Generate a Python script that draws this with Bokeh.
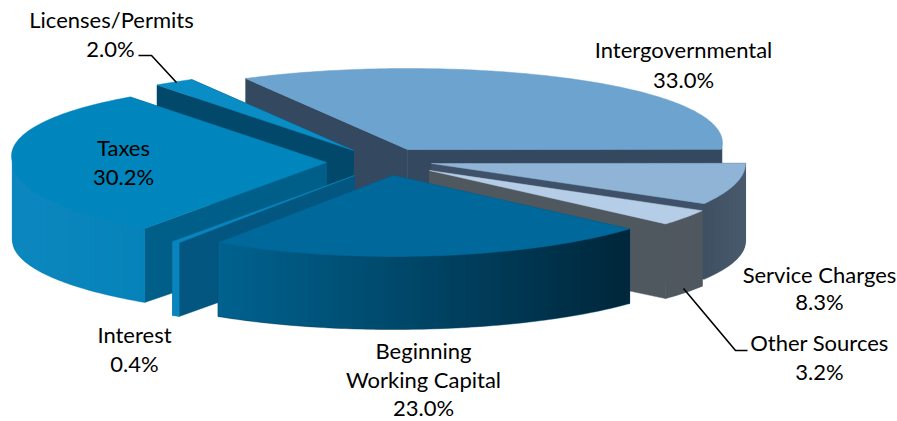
import math
from bokeh.plotting import figure
from bokeh.models import Range1d
from bokeh.core.properties import value
from bokeh.embed import file_html
from bokeh.resources import INLINE

# ---- data (clockwise from the Intergovernmental slice) ----
categories = ["Intergovernmental", "Service Charges", "Other Sources",
              "Beginning Working Capital", "Interest", "Taxes", "Licenses/Permits"]
values = [33.0, 8.3, 3.2, 23.0, 0.4, 30.2, 2.0]
label_lines = [["Intergovernmental"], ["Service Charges"], ["Other Sources"],
               ["Beginning", "Working Capital"], ["Interest"], ["Taxes"], ["Licenses/Permits"]]

# ---- layout ----
W, H = 897, 421
START_DEG = 118.8
RX, RY_TOP, RY_BOT, THICK, BACK_WIDEN = 314, 81, 76, 78, 0.08
apex = [(407, 149), (431, 163), (429, 170), (393, 175), (354, 175), (326, 162), (353, 150)]
draw_order = [0, 6, 5, 1, 2, 4, 3]
top_col = ["#6CA3CF", "#8FB4D6", "#B5CDE6", "#00689A", "#0A84BC", "#0085BD", "#0A8CC5"]
face_col = ["#34495F", "#3E5168", "#50585F", "#00567E", "#03567F", "#005F88", "#02486B"]
wall_l = ["#34495F", "#3F5063", "#50585F", "#00628F", "#0A84BC", "#0D87BF", "#02486B"]
wall_r = ["#2F4A64", "#4A5B6E", "#50585F", "#00263A", "#0A84BC", "#0583B9", "#02486B"]
label_xy = [[(683, 49)], [(819, 274)], [(819, 342)], [(423, 350), (423, 379)],
            [(134, 334)], [(123, 147)], [(111, 19)]]
pct_xy = [(683, 79), (819, 301), (819, 371), (423, 407), (134, 363), (123, 176), (110, 48)]
leaders = [([138, 151, 176], [55, 55, 82]), ([683, 735, 747], [288, 350, 350])]
FONT, FONT_PX = "Lato", "22px"

p = figure(width=W, height=H, x_range=Range1d(0, W), y_range=Range1d(H, 0),
           output_backend="svg", toolbar_location=None, min_border=0)
p.axis.visible = False
p.grid.visible = False
p.outline_line_color = None
p.background_fill_color = "#FFFFFF"


def mix(a, b, t):
    t = min(1, max(0, t))
    ca = [int(a[i:i + 2], 16) for i in (1, 3, 5)]
    cb = [int(b[i:i + 2], 16) for i in (1, 3, 5)]
    return "#%02x%02x%02x" % tuple(round(u + (v - u) * t) for u, v in zip(ca, cb))


def top_pt(i, th):
    s, c = math.sin(th), math.cos(th)
    k = 1 + BACK_WIDEN * max(s, 0)
    return apex[i][0] + RX * c * k, apex[i][1] - RY_TOP * s


def bot_pt(i, th):
    s, c = math.sin(th), math.cos(th)
    k = 1 + BACK_WIDEN * max(s, 0)
    return apex[i][0] + RX * c * k, apex[i][1] + THICK - RY_BOT * s


total = sum(values)
bounds = [math.radians(START_DEG)]
for v in values:
    bounds.append(bounds[-1] - 2 * math.pi * v / total)

for i in draw_order:
    a0, a1 = bounds[i], bounds[i + 1]
    n = max(2, int(abs(a1 - a0) / math.radians(1.0)))
    ths = [a0 + (a1 - a0) * j / n for j in range(n + 1)]
    ax, ay = apex[i]

    # radial cut faces, the one further back first
    faces = sorted([a0, a1], key=lambda t: top_pt(i, t)[1])
    for t in faces:
        x1, y1 = top_pt(i, t)
        x2, y2 = bot_pt(i, t)
        p.patch([ax, x1, x2, ax], [ay, y1, y2, ay + THICK],
                fill_color=face_col[i], line_color=face_col[i], line_width=0.5)

    # outer wall: a solid silhouette, then overlapping shaded strips without outlines
    vis = [t for t in ths if math.sin(t) <= 0.02]
    if len(vis) >= 2:
        tops = [top_pt(i, t) for t in vis]
        bots = [bot_pt(i, t) for t in reversed(vis)]
        lo = min(q[0] for q in tops)
        hi = max(q[0] for q in tops)
        p.patch([q[0] for q in tops + bots], [q[1] for q in tops + bots],
                fill_color=mix(wall_l[i], wall_r[i], 0.5),
                line_color=mix(wall_l[i], wall_r[i], 0.5), line_width=0.5)
        # keep strips just inside the bottom edge so their ends cannot comb it
        order = sorted(vis, key=lambda t: top_pt(i, t)[0])
        xs, ys, cols = [], [], []
        for j in range(len(order) - 1):
            t0 = order[j]
            t1 = order[min(j + 2, len(order) - 1)]
            a, b = top_pt(i, t0), top_pt(i, t1)
            c, d = bot_pt(i, t1), bot_pt(i, t0)
            xs.append([a[0], b[0], c[0], d[0]])
            ys.append([a[1], b[1], c[1] - 0.6, d[1] - 0.6])
            cols.append(mix(wall_l[i], wall_r[i], (a[0] - lo) / max(hi - lo, 1)))
        p.patches(xs, ys, fill_color=cols, line_color=None)

    # top surface
    pts = [top_pt(i, t) for t in ths]
    p.patch([ax] + [q[0] for q in pts], [ay] + [q[1] for q in pts],
            fill_color=top_col[i], line_color=top_col[i], line_width=0.5)

for lx, ly in leaders:
    p.line(lx, ly, line_color="#000000", line_width=1.6)

tx, ty, tt = [], [], []
for i in range(len(categories)):
    for line, (x, y) in zip(label_lines[i], label_xy[i]):
        tx.append(x); ty.append(y); tt.append(line)
    tx.append(pct_xy[i][0]); ty.append(pct_xy[i][1]); tt.append(f"{values[i]:.1f}%")
p.text(tx, ty, text=tt, text_font=value(FONT), text_font_size=value(FONT_PX),
       text_align="center", text_baseline="middle", text_color="#000000")

open("out.html", "w").write(file_html(p, INLINE))
